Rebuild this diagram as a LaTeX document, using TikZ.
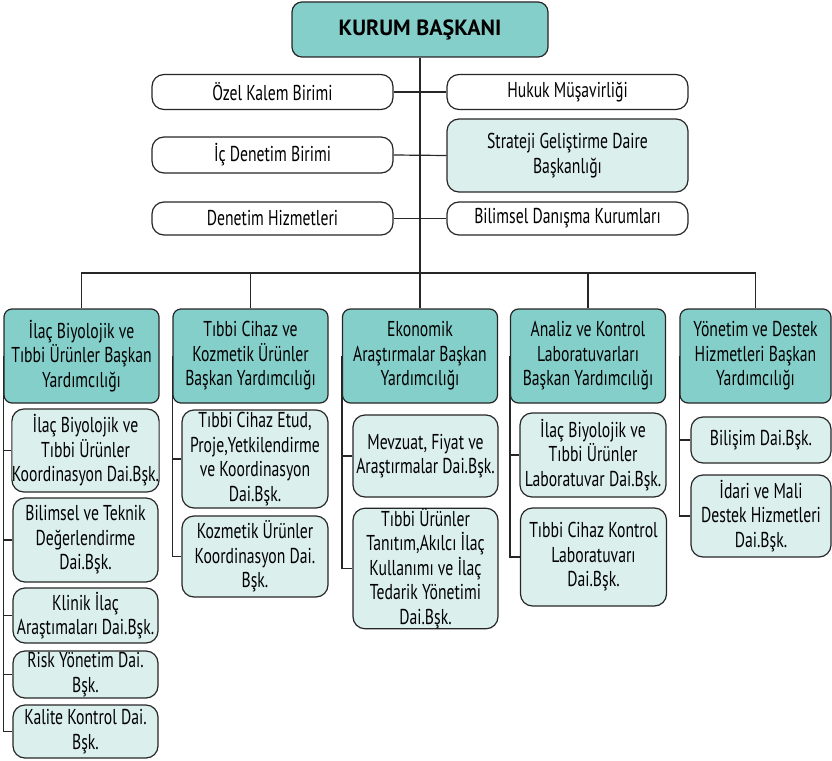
\documentclass[tikz,border=0pt]{standalone}
\usepackage{fontspec}
\setmainfont{PT Sans}[FakeStretch=0.73]
\newfontfamily\titlefont{PT Sans}
\definecolor{headfill}{HTML}{85CFCB}
\definecolor{subfill}{HTML}{DBEFED}
\definecolor{edge}{HTML}{262626}
\begin{document}
\begin{tikzpicture}[x=1pt,y=-1pt,
  box/.style={draw=edge, line width=1.2pt, align=center, inner sep=0pt, font=\fontsize{21.5}{24.5}\selectfont},
  head/.style={box, fill=headfill, rounded corners=8pt, minimum width=155pt, minimum height=94pt},
  sub/.style={box, fill=subfill, rounded corners=12pt},
  staff/.style={box, fill=white, rounded corners=12pt, minimum width=241pt},
  link/.style={draw=edge, line width=1.2pt}]
\useasboundingbox (0,0) rectangle (832,760);

% top
\node[box, fill=headfill, rounded corners=10pt, minimum width=256pt, minimum height=55pt,
      font=\titlefont\bfseries\fontsize{22}{26}\selectfont] (k) at (420,29.5) {KURUM BAŞKANI};

\node[staff, minimum height=35pt] (ozel) at (272.5,92) {Özel Kalem Birimi};
\node[staff, minimum height=35pt] (hukuk) at (567.5,92) {Hukuk Müşavirliği};
\node[staff, minimum height=36pt] (ic) at (272.5,155) {İç Denetim Birimi};
\node[staff, fill=subfill, minimum height=73pt] (strat) at (567.5,155.5) {Strateji Geliştirme Daire\\Başkanlığı};
\node[staff, minimum height=33pt] (den) at (272.5,218.5) {Denetim Hizmetleri};
\node[staff, minimum height=33pt] (bil) at (567.5,218.5) {Bilimsel Danışma Kurumları};

% level 2
\node[head] (h1) at (81.5,356) {İlaç Biyolojik ve\\Tıbbi Ürünler Başkan\\Yardımcılığı};
\node[head] (h2) at (250.5,356) {Tıbbi Cihaz ve\\Kozmetik Ürünler\\Başkan Yardımcılığı};
\node[head] (h3) at (420,356) {Ekonomik\\Araştırmalar Başkan\\Yardımcılığı};
\node[head] (h4) at (588,356) {Analiz ve Kontrol\\Laboratuvarları\\Başkan Yardımcılığı};
\node[head, minimum width=151pt] (h5) at (755.5,356) {Yönetim ve Destek\\Hizmetleri Başkan\\Yardımcılığı};

% column 1
\node[sub, minimum width=145pt, minimum height=83pt] (s1) at (85.5,450.5) {İlaç Biyolojik ve\\Tıbbi Ürünler\\Koordinasyon Dai.Bşk.};
\node[sub, minimum width=145pt, minimum height=84pt] (s2) at (85.5,540) {Bilimsel ve Teknik\\Değerlendirme\\Dai.Bşk.};
\node[sub, minimum width=145pt, minimum height=55pt] (s3) at (85.5,615.5) {Klinik İlaç\\Araştımaları Dai.Bşk.};
\node[sub, minimum width=145pt, minimum height=47pt] (s4) at (85.5,674.5) {Risk Yönetim Dai.\\Bşk.};
\node[sub, minimum width=145pt, minimum height=53pt] (s5) at (85.5,731.5) {Kalite Kontrol Dai.\\Bşk.};

% column 2
\node[sub, minimum width=146pt, minimum height=98pt] (t1) at (255,459) {Tıbbi Cihaz Etud,\\Proje,Yetkilendirme\\ve Koordinasyon\\Dai.Bşk.};
\node[sub, minimum width=146pt, minimum height=81pt] (t2) at (255,556.5) {Kozmetik Ürünler\\Koordinasyon Dai.\\Bşk.};

% column 3
\node[sub, minimum width=145pt, minimum height=82pt] (e1) at (425.5,456) {Mevzuat, Fiyat ve\\Araştırmalar Dai.Bşk.};
\node[sub, minimum width=145pt, minimum height=117pt] (e2) at (425.5,568.5) {Tıbbi Ürünler\\Tanıtım,Akılcı İlaç\\Kullanımı ve İlaç\\Tedarik Yönetimi\\Dai.Bşk.};

% column 4
\node[sub, minimum width=146pt, minimum height=84pt] (a1) at (593,455) {İlaç Biyolojik ve\\Tıbbi Ürünler\\Laboratuvar Dai.Bşk.};
\node[sub, minimum width=146pt, minimum height=98pt] (a2) at (593.5,557) {Tıbbi Cihaz Kontrol\\Laboratuvarı\\Dai.Bşk.};

% column 5
\node[sub, minimum width=140pt, minimum height=46pt] (y1) at (761,440) {Bilişim Dai.Bşk.};
\node[sub, minimum width=140pt, minimum height=82pt] (y2) at (761,516) {İdari ve Mali\\Destek Hizmetleri\\Dai.Bşk.};

% connectors
\coordinate (bus) at (420,273);
\draw[link] (k.south) -- (h3.north);
\draw[link] (ozel.east) -- (hukuk.west);
\draw[link] (ic.east) -- (strat.west);
\draw[link] (den.east) -- (bil.west);
\draw[link] (h1.north) |- (bus) -| (h5.north);
\draw[link] (h2.north) -- (h2.north |- bus);
\draw[link] (h4.north) -- (h4.north |- bus);

\draw[link] (h1.west) |- (s5.west);
\foreach \n in {s1,s2,s3,s4} \draw[link] (\n.west) -- (\n.west -| h1.west);
\draw[link] (h2.west) |- (t2.west);
\draw[link] (t1.west) -- (t1.west -| h2.west);
\draw[link] (h3.west) |- (e2.west);
\draw[link] (e1.west) -- (e1.west -| h3.west);
\draw[link] (h4.west) |- (a2.west);
\draw[link] (a1.west) -- (a1.west -| h4.west);
\draw[link] (h5.west) |- (y2.west);
\draw[link] (y1.west) -- (y1.west -| h5.west);
\end{tikzpicture}
\end{document}
